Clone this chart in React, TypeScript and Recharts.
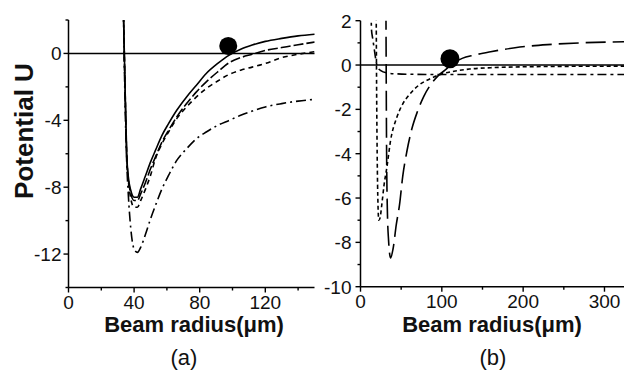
import React from "react"
import { LineChart, Line, XAxis, YAxis, ReferenceLine, ReferenceDot } from "recharts"

// panel (a): beam radius (um) and potential U for the four curves
const radiusA = [33.5, 34.5, 35.5, 36.5, 38, 40, 42, 44, 47, 50, 53, 57, 61, 66, 72, 78, 84, 91, 98, 105, 112, 120, 130, 140, 150]
const solidA = [2.5, -2, -6, -7.4, -8.2, -8.6, -8.6, -8.1, -7.3, -6.5, -5.8, -4.9, -4.2, -3.4, -2.6, -1.9, -1.2, -0.6, -0.1, 0.25, 0.5, 0.72, 0.9, 1.05, 1.15]
const longDashA = [2.5, -2.1, -6.1, -7.5, -8.4, -8.8, -8.8, -8.4, -7.7, -6.9, -6.2, -5.3, -4.6, -3.8, -3.0, -2.3, -1.7, -1.1, -0.55, -0.25, -0.05, 0.18, 0.35, 0.52, 0.68]
const shortDashA = [2.5, -2.2, -6.2, -7.6, -8.7, -9.2, -9.2, -8.8, -8.1, -7.3, -6.3, -5.4, -4.7, -3.9, -3.2, -2.6, -2.1, -1.65, -1.25, -1.0, -0.82, -0.6, -0.25, -0.05, 0.1]
const dashDotA = [2.5, -3, -6.5, -8.5, -10.5, -11.7, -11.9, -11.6, -10.8, -9.9, -9.1, -8.1, -7.3, -6.4, -5.7, -5.1, -4.7, -4.3, -4.0, -3.7, -3.45, -3.2, -3.0, -2.85, -2.75]
const markerA = { r: 97.4, u: 0.45 }

// panel (b): each curve has its own radius samples
const longRadiusB = [31.3, 32, 33, 34.5, 37, 40, 44, 48, 52, 57, 63, 70, 78, 86, 95, 105, 113, 125, 140, 160, 190, 230, 270, 324]
const longDashB = [2.5, -3.4, -6.5, -7.9, -8.7, -8.3, -7.2, -6.3, -5.0, -3.9, -2.9, -2.1, -1.4, -0.9, -0.5, -0.2, 0.05, 0.3, 0.45, 0.6, 0.78, 0.92, 1.0, 1.05]
const shortRadiusB = [19.3, 19.8, 20.5, 21.5, 22.5, 24, 26.5, 29, 32.5, 37, 44.7, 52, 61, 72, 85, 100, 115, 134, 160, 200, 250, 324]
const shortDashB = [2.5, -1, -4, -6.3, -7.0, -6.9, -6.2, -5.4, -4.6, -3.4, -2.36, -1.75, -1.3, -0.9, -0.63, -0.4, -0.28, -0.18, -0.12, -0.08, -0.06, -0.05]
const dashDotRadiusB = [13, 13.5, 15, 17, 19, 21, 25, 32, 45, 70, 100, 324]
const dashDotB = [2.5, 1.6, 1.2, 0.7, 0.2, -0.1, -0.25, -0.35, -0.4, -0.42, -0.43, -0.43]
const markerB = { r: 110, u: 0.28 }

const xTicksA = [0, 20, 40, 60, 80, 100, 120, 140]
const yTicksA = [2, 0, -2, -4, -6, -8, -10, -12, -14]
const xTicksB = [0, 50, 100, 150, 200, 250, 300]
const yTicksB = [2, 1, 0, -1, -2, -3, -4, -5, -6, -7, -8, -9, -10]

const dataA = radiusA.map((r, i) => ({
  r,
  solid: solidA[i],
  longDash: longDashA[i],
  shortDash: shortDashA[i],
  dashDot: dashDotA[i],
}))
const toRows = (rs: number[], us: number[]) => rs.map((r, i) => ({ r, u: us[i] }))
const longRowsB = toRows(longRadiusB, longDashB)
const shortRowsB = toRows(shortRadiusB, shortDashB)
const dashDotRowsB = toRows(dashDotRadiusB, dashDotB)

const tickFont = "'Liberation Sans', Arial, sans-serif"
const labelFont = "'Liberation Sans', Arial, sans-serif"
const AXIS_W = 60
const AXIS_H = 60

function makeYTick(isMajor: (v: number) => boolean, gap: number) {
  return (props: any) => {
    const { x, y, payload } = props
    const major = isMajor(payload.value)
    return (
      <g>
        <line x1={x} x2={x - (major ? 5 : 3)} y1={y} y2={y} stroke="#000" strokeWidth={1.4} />
        {major && (
          <text x={x - gap} y={y + 7} textAnchor="end" fontFamily={tickFont} fontSize={19} fill="#111">
            {payload.value}
          </text>
        )}
      </g>
    )
  }
}

function makeXTick(isMajor: (v: number) => boolean) {
  return (props: any) => {
    const { x, y, payload } = props
    const major = isMajor(payload.value)
    return (
      <g>
        <line x1={x} x2={x} y1={y} y2={y + (major ? 5 : 3)} stroke="#000" strokeWidth={1.4} />
        {major && (
          <text x={x} y={y + 21.5} textAnchor="middle" fontFamily={tickFont} fontSize={19} fill="#111">
            {payload.value}
          </text>
        )}
      </g>
    )
  }
}

const lineProps = { stroke: "#000", strokeWidth: 1.6, dot: false, isAnimationActive: false, type: "monotone" as const }
const axisLine = { stroke: "#000", strokeWidth: 1.5 }

export default function App() {
  return (
    <div style={{ position: "absolute", left: 0, top: 0, width: 624, height: 372, background: "#fff", overflow: "hidden" }}>
      <div style={{ position: "absolute", left: 0, top: 0 }}>
        <LineChart
          width={330}
          height={372}
          data={dataA}
          margin={{ top: 20, left: 68.5 - AXIS_W, right: 15.5, bottom: 84.5 - AXIS_H }}
        >
          <XAxis
            dataKey="r"
            type="number"
            domain={[0, 150]}
            ticks={xTicksA}
            interval={0}
            height={AXIS_H}
            tickSize={0}
            tickMargin={0}
            axisLine={axisLine}
            tickLine={false}
            tick={makeXTick((v) => v % 40 === 0)}
          />
          <YAxis
            type="number"
            domain={[-14, 2]}
            allowDataOverflow
            ticks={yTicksA}
            interval={0}
            width={AXIS_W}
            tickSize={0}
            tickMargin={0}
            axisLine={axisLine}
            tickLine={false}
            tick={makeYTick((v) => v % 4 === 0, 7)}
          />
          <ReferenceLine y={0} stroke="#000" strokeWidth={1.5} />
          <Line {...lineProps} dataKey="solid" />
          <Line {...lineProps} dataKey="longDash" strokeDasharray="10 3" />
          <Line {...lineProps} dataKey="shortDash" strokeDasharray="5 4" />
          <Line {...lineProps} dataKey="dashDot" strokeDasharray="10 4 2 4" />
          <ReferenceDot x={markerA.r} y={markerA.u} r={9} fill="#000" stroke="none" />
        </LineChart>
      </div>
      <div style={{ position: "absolute", left: 0, top: 0 }}>
        <LineChart
          width={624}
          height={372}
          margin={{ top: 20.7, left: 360.5 - AXIS_W, right: 0, bottom: 85.3 - AXIS_H }}
        >
          <XAxis
            dataKey="r"
            type="number"
            domain={[0, 324]}
            allowDataOverflow
            ticks={xTicksB}
            interval={0}
            height={AXIS_H}
            tickSize={0}
            tickMargin={0}
            axisLine={axisLine}
            tickLine={false}
            tick={makeXTick((v) => v % 100 === 0)}
          />
          <YAxis
            type="number"
            domain={[-10, 2]}
            allowDataOverflow
            ticks={yTicksB}
            interval={0}
            width={AXIS_W}
            tickSize={0}
            tickMargin={0}
            axisLine={axisLine}
            tickLine={false}
            tick={makeYTick((v) => v % 2 === 0, 9)}
          />
          <ReferenceLine y={0} stroke="#000" strokeWidth={1.5} />
          <Line {...lineProps} data={longRowsB} dataKey="u" strokeDasharray="20 7" />
          <Line {...lineProps} data={shortRowsB} dataKey="u" strokeDasharray="4 3" />
          <Line {...lineProps} data={dashDotRowsB} dataKey="u" strokeDasharray="9 4 3 4" />
          <ReferenceDot x={markerB.r} y={markerB.u} r={9.5} fill="#000" stroke="none" />
        </LineChart>
      </div>
      <svg width={624} height={372} style={{ position: "absolute", left: 0, top: 0, pointerEvents: "none" }}>
        <text transform="translate(33,131) rotate(-90)" textAnchor="middle" fontFamily={labelFont} fontWeight="bold" fontSize={26} fill="#111">
          Potential U
        </text>
        <text x={194} y={332} textAnchor="middle" fontFamily={labelFont} fontWeight="bold" fontSize={22} fill="#111">
          Beam radius(μm)
        </text>
        <text x={492} y={332} textAnchor="middle" fontFamily={labelFont} fontWeight="bold" fontSize={22} fill="#111">
          Beam radius(μm)
        </text>
        <text x={184} y={365} textAnchor="middle" fontFamily={labelFont} fontSize={22} fill="#111">
          (a)
        </text>
        <text x={493} y={365} textAnchor="middle" fontFamily={labelFont} fontSize={22} fill="#111">
          (b)
        </text>
      </svg>
    </div>
  )
}
